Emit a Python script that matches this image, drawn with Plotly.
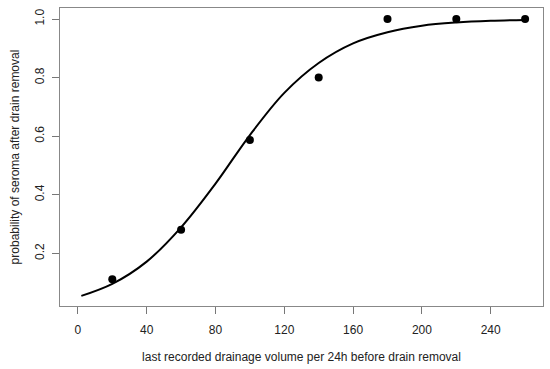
import plotly.graph_objects as go

# observed data points
obs_x = [20, 60, 100, 140, 180, 220, 260]
obs_y = [0.112, 0.281, 0.587, 0.800, 1.000, 1.000, 1.000]

# fitted curve values
curve_x = [2, 20, 40, 60, 80, 100, 120, 140, 160, 180, 200, 220, 240, 260]
curve_y = [0.055, 0.096, 0.172, 0.289, 0.438, 0.604, 0.748, 0.850, 0.917, 0.955, 0.977, 0.988, 0.994, 0.997]

x_ticks = [0, 40, 80, 120, 160, 200, 240]
y_ticks = [0.2, 0.4, 0.6, 0.8, 1.0]
y_tick_labels = ["0.2", "0.4", "0.6", "0.8", "1.0"]

fig = go.Figure()
fig.add_trace(go.Scatter(x=curve_x, y=curve_y, mode="lines",
                         line=dict(color="black", width=2, shape="spline", smoothing=1.0),
                         showlegend=False, hoverinfo="skip"))
fig.add_trace(go.Scatter(x=obs_x, y=obs_y, mode="markers",
                         marker=dict(color="black", size=8),
                         showlegend=False))

font = dict(family="Liberation Sans, Arial, sans-serif", size=12, color="#222")

fig.update_layout(
    width=550, height=369,
    margin=dict(l=60, r=7, t=8, b=63),
    paper_bgcolor="white", plot_bgcolor="white",
    font=font,
    xaxis=dict(range=[-10.4, 270.4], tickvals=x_ticks, ticks="outside", ticklen=7,
               tickcolor="#777", tickwidth=1, showline=True, linecolor="#888", linewidth=1,
               mirror=True, showgrid=False, zeroline=False,
               ticklabelstandoff=6,
               title=dict(text="last recorded drainage volume per 24h before drain removal",
                          font=font, standoff=16)),
    yaxis=dict(range=[0.0205, 1.0376], tickvals=y_ticks, ticktext=y_tick_labels,
               ticks="outside", ticklen=7, tickangle=-90,
               tickcolor="#777", tickwidth=1, showline=True, linecolor="#888", linewidth=1,
               mirror=True, showgrid=False, zeroline=False,
               ticklabelstandoff=3,
               title=dict(text="probability of seroma after drain removal",
                          font=font, standoff=11)),
)

fig.write_html("out.html", config={"displayModeBar": False},
               post_script="document.body.style.margin='0';")
